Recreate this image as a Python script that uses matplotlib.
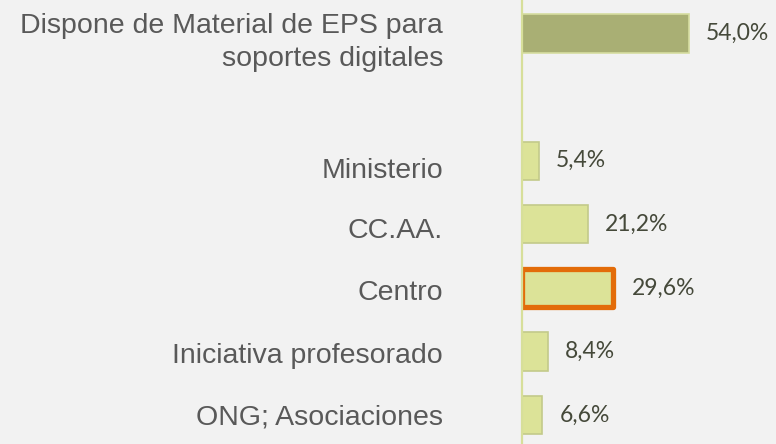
import matplotlib
matplotlib.use("Agg")
import matplotlib.pyplot as plt
import matplotlib.transforms as mtransforms

# data
categories = ["Dispone de Material de EPS para\nsoportes digitales",
              "Ministerio", "CC.AA.", "Centro",
              "Iniciativa profesorado", "ONG; Asociaciones"]
values = [54.0, 5.4, 21.2, 29.6, 8.4, 6.6]
value_labels = ["54,0%", "5,4%", "21,2%", "29,6%", "8,4%", "6,6%"]
highlight = "Centro"

bg = "#F2F2F2"
fig = plt.figure(figsize=(7.76, 4.44), dpi=100, facecolor=bg)
ax = fig.add_axes([522 / 776, 0, 254 / 776, 1])
ax.set_facecolor(bg)

# first bar stands apart, one empty slot below it
pos = [0] + [i + 1 for i in range(1, len(values))]
# small vertical nudges (pixels) of the category labels, as in the original
nudge = [9, 10.5, 7, 5.5, 4.5, 2]

lab_trans = mtransforms.blended_transform_factory(ax.transAxes, ax.transData)

for p, v, c, lab, dy in zip(pos, values, categories, value_labels, nudge):
    if p == 0:
        ax.barh(p, v, height=0.6, color="#A9AF74", edgecolor="#D6DDA0", linewidth=1.2, zorder=2)
    elif c == highlight:
        ax.barh(p, v, height=0.6, color="#DCE398", edgecolor="#E36C09", linewidth=3.8,
                joinstyle="round", zorder=3)
    else:
        ax.barh(p, v, height=0.6, color="#DCE398", edgecolor="#C3CA8A", linewidth=1.2, zorder=2)
    off = 5.9 if c == highlight else 5.5
    ax.text(v + off, p, lab, va="center", ha="left", fontsize=16.5,
            family="Lato", color="#45493A")
    t = lab_trans + mtransforms.ScaledTranslation(-79 / 100, -dy / 100, fig.dpi_scale_trans)
    ax.text(0, p, c, transform=t, ha="right", va="center", fontsize=20.5,
            family="Liberation Sans", color="#595959", linespacing=1.37,
            clip_on=False)

ax.set_xlim(0, 82.2)
ax.set_ylim(6.455, -0.527)

ax.set_xticks([])
ax.set_yticks([])

for s in ["top", "right", "bottom"]:
    ax.spines[s].set_visible(False)
ax.spines["left"].set_color("#D7DF9A")
ax.spines["left"].set_linewidth(1.6)
ax.spines["left"].set_zorder(4)

fig.savefig("out.png", dpi=100, facecolor=bg)
